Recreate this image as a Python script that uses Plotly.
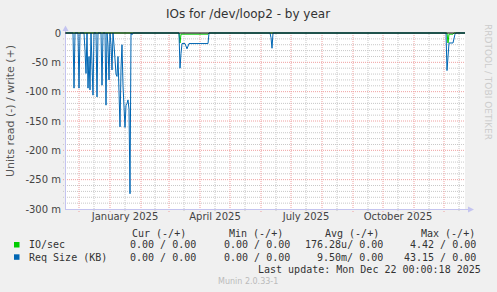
import plotly.graph_objects as go

# ---------------- data (values in milli-units, read negative) ----------------
req_dates = [
    "2024-11-17", "2024-11-25", "2024-11-26", "2024-11-27", "2024-11-30", "2024-12-01", "2024-12-02",
    "2024-12-06", "2024-12-07", "2024-12-08", "2024-12-09", "2024-12-10", "2024-12-11", "2024-12-12",
    "2024-12-13", "2024-12-14", "2024-12-15", "2024-12-16", "2024-12-18", "2024-12-19", "2024-12-20",
    "2024-12-23", "2024-12-24", "2024-12-25", "2024-12-27", "2024-12-28", "2024-12-29", "2024-12-30",
    "2024-12-31", "2025-01-01", "2025-01-02", "2025-01-03", "2025-01-04", "2025-01-05", "2025-01-06",
    "2025-01-07", "2025-01-08", "2025-01-09", "2025-01-10", "2025-01-11", "2025-01-12", "2025-01-13",
    "2025-01-14", "2025-01-15", "2025-01-16", "2025-01-17", "2025-01-18", "2025-01-19", "2025-01-20",
    "2025-01-21", "2025-01-22", "2025-01-23", "2025-01-24",
    "2025-03-11", "2025-03-12", "2025-03-13", "2025-03-14", "2025-03-17", "2025-03-19", "2025-03-21",
    "2025-04-09", "2025-04-10",
    "2025-06-10", "2025-06-11", "2025-06-12", "2025-06-13",
    "2025-12-03", "2025-12-04", "2025-12-05", "2025-12-06", "2025-12-10", "2025-12-11", "2025-12-12",
    "2025-12-13", "2025-12-22",
]
req_size = [
    0, 0, -94, 0, 0, -94, 0,
    0, -30, -69, 0, -94, -40, -97,
    0, -50, -106, 0, 0, -109, 0,
    0, -89, 0, 0, -123, 0, -20,
    -80, 0, -20, -63, 0, -20, -50,
    -70, -74, -40, -100, -160, -60, -20,
    -90, -140, -161, -123, -120, -114, -130,
    -274, 0, -3, 0,
    0, -60, -35, -18, -18, -27, -18,
    -18, 0,
    0, -8, -26, 0,
    0, -64, -40, -17, -17, -7, -2,
    0, 0,
]

io_dates = [
    "2024-11-17", "2025-03-11", "2025-03-12", "2025-03-13", "2025-04-09", "2025-04-10",
    "2025-12-04", "2025-12-05", "2025-12-06", "2025-12-10", "2025-12-11", "2025-12-22",
]
io_sec = [0, 0, -17, -2, -2, 0, 0, -17, -2, -2, 0, 0]

y_ticks = [0, -50, -100, -150, -200, -250, -300]
y_tick_text = ["0", "-50 m", "-100 m", "-150 m", "-200 m", "-250 m", "-300 m"]
x_tick_dates = ["2025-01-16", "2025-04-16", "2025-07-16", "2025-10-16"]
x_tick_text = ["January 2025", "April 2025", "July 2025", "October 2025"]
month_starts = ["2024-12-01", "2025-01-01", "2025-02-01", "2025-03-01", "2025-04-01", "2025-05-01",
                "2025-06-01", "2025-07-01", "2025-08-01", "2025-09-01", "2025-10-01", "2025-11-01",
                "2025-12-01"]
mid_months = ["2024-12-16", "2025-01-16", "2025-02-15", "2025-03-16", "2025-04-16", "2025-05-16",
              "2025-06-16", "2025-07-16", "2025-08-16", "2025-09-16", "2025-10-16", "2025-11-16",
              "2025-12-16"]

legend_names = ["IO/sec", "Req Size (KB)"]
legend_colors = ["#00CC00", "#0066B3"]
col_headers = ["Cur (-/+)", "Min (-/+)", "Avg (-/+)", "Max (-/+)"]
legend_values = [
    ["0.00 / 0.00", "0.00 / 0.00", "176.28u/ 0.00", "4.42 / 0.00"],
    ["0.00 / 0.00", "0.00 / 0.00", "9.50m/ 0.00", "43.15 / 0.00"],
]

# ---------------- layout geometry ----------------
W, H = 497, 292
ML, MR, MT, MB = 65, 32, 32, 83
PW = W - ML - MR
PH = H - MT - MB
Y_TOP = 300 / 176.0


def px(x):
    return (x - ML) / PW


def py(y):
    return (H - MB - y) / PH


fig = go.Figure()
fig.add_trace(go.Scatter(x=io_dates, y=io_sec, mode="lines",
                         line=dict(color=legend_colors[0], width=1), hoverinfo="skip"))
fig.add_trace(go.Scatter(x=req_dates, y=req_size, mode="lines",
                         line=dict(color=legend_colors[1], width=1), hoverinfo="skip"))

shapes = []
minor_c = "#C8C8C8"
major_c = "#F0A0A0"
for v in range(-290, 0, 10):
    if v % 50 == 0:
        continue
    shapes.append(dict(type="line", xref="paper", yref="y", x0=px(63), x1=1, y0=v, y1=v,
                       line=dict(color=minor_c, width=1, dash="1px,1px"), layer="below"))
for d in mid_months:
    shapes.append(dict(type="line", xref="x", yref="paper", x0=d, x1=d, y0=py(211), y1=1,
                       line=dict(color=minor_c, width=1, dash="1px,1px"), layer="below"))
for v in [-50, -100, -150, -200, -250]:
    shapes.append(dict(type="line", xref="paper", yref="y", x0=px(63), x1=1, y0=v, y1=v,
                       line=dict(color=major_c, width=1, dash="1px,1px"), layer="below"))
for d in month_starts:
    shapes.append(dict(type="line", xref="x", yref="paper", x0=d, x1=d, y0=py(212), y1=1,
                       line=dict(color=major_c, width=1, dash="1px,1px"), layer="below"))

axis_c = "#C4C4F0"
# axes with arrows
shapes.append(dict(type="line", xref="paper", yref="paper", x0=px(65.5), x1=px(65.5),
                   y0=py(209), y1=py(28), line=dict(color=axis_c, width=1)))
shapes.append(dict(type="line", xref="paper", yref="paper", x0=px(65), x1=px(470),
                   y0=py(209.5), y1=py(209.5), line=dict(color=axis_c, width=1)))
shapes.append(dict(type="path", xref="paper", yref="paper",
                   path=f"M {px(62.5)} {py(31)} L {px(68.5)} {py(31)} L {px(65.5)} {py(25.5)} Z",
                   fillcolor=axis_c, line=dict(width=0)))
shapes.append(dict(type="path", xref="paper", yref="paper",
                   path=f"M {px(468)} {py(206.5)} L {px(468)} {py(212.5)} L {px(474)} {py(209.5)} Z",
                   fillcolor=axis_c, line=dict(width=0)))
# zero line
shapes.append(dict(type="line", xref="paper", yref="y", x0=0, x1=1, y0=0, y1=0,
                   line=dict(color="#000000", width=1), layer="above"))

# legend squares
for i, c in enumerate(legend_colors):
    yc = 245 + i * 12.3
    shapes.append(dict(type="rect", xref="paper", yref="paper",
                       x0=px(14), x1=px(19.5), y0=py(yc - 3), y1=py(yc + 2.5),
                       fillcolor=c, line=dict(width=0)))

ann = []
ann.append(dict(text="IOs for /dev/loop2 - by year", x=px(248), y=py(14), xref="paper", yref="paper",
                showarrow=False, xanchor="center", yanchor="middle",
                font=dict(family="DejaVu Sans", size=12, color="#333333")))
ann.append(dict(text="Units read (-) / write (+)", x=px(10), y=py(111), xref="paper", yref="paper",
                showarrow=False, textangle=-90, xanchor="center", yanchor="middle",
                font=dict(family="DejaVu Sans", size=11, color="#555555")))
ann.append(dict(text="RRDTOOL / TOBI OETIKER", x=px(488), y=py(82), xref="paper", yref="paper",
                showarrow=False, textangle=90, xanchor="center", yanchor="middle",
                font=dict(family="DejaVu Sans", size=9, color="#CCCCCC")))

mono = dict(family="DejaVu Sans Mono", size=10, color="#333333")
hdr_right = [187.5, 284.5, 380.5, 476.5]
val_right = [197.5, 291.5, 384.5, 477.5]
for h, xr in zip(col_headers, hdr_right):
    ann.append(dict(text=h, x=px(xr), y=py(233.3), xref="paper", yref="paper", showarrow=False,
                    xanchor="right", yanchor="middle", font=mono))
for r, (name, vals) in enumerate(zip(legend_names, legend_values)):
    yc = 245 + r * 12.3
    ann.append(dict(text=name, x=px(26.5), y=py(yc), xref="paper", yref="paper", showarrow=False,
                    xanchor="left", yanchor="middle", font=mono))
    for v, xr in zip(vals, val_right):
        ann.append(dict(text=v, x=px(xr), y=py(yc), xref="paper", yref="paper", showarrow=False,
                        xanchor="right", yanchor="middle", font=mono))
ann.append(dict(text="Last update: Mon Dec 22 00:00:18 2025", x=px(483.5), y=py(269.7),
                xref="paper", yref="paper", showarrow=False, xanchor="right", yanchor="middle",
                font=mono))
ann.append(dict(text="Munin 2.0.33-1", x=px(248), y=py(281), xref="paper", yref="paper",
                showarrow=False, xanchor="center", yanchor="middle",
                font=dict(family="DejaVu Sans", size=8, color="#BBBBBB")))

fig.update_layout(
    width=W, height=H,
    margin=dict(l=ML, r=MR, t=MT, b=MB),
    paper_bgcolor="#F0F0F0", plot_bgcolor="#FFFFFF",
    showlegend=False,
    shapes=shapes, annotations=ann,
    xaxis=dict(type="date", range=["2024-11-17", "2025-12-22"], showgrid=False, zeroline=False,
               showline=False, tickmode="array", tickvals=x_tick_dates, ticktext=x_tick_text,
               ticks="", tickfont=dict(family="DejaVu Sans", size=10, color="#444444"),
               fixedrange=True),
    yaxis=dict(range=[-300, Y_TOP], showgrid=False, zeroline=False, showline=False,
               tickmode="array", tickvals=y_ticks, ticktext=y_tick_text, ticks="",
               ticklabelstandoff=3,
               tickfont=dict(family="DejaVu Sans", size=10, color="#444444"), fixedrange=True),
)

fig.write_html("out.html", config={"displayModeBar": False})
